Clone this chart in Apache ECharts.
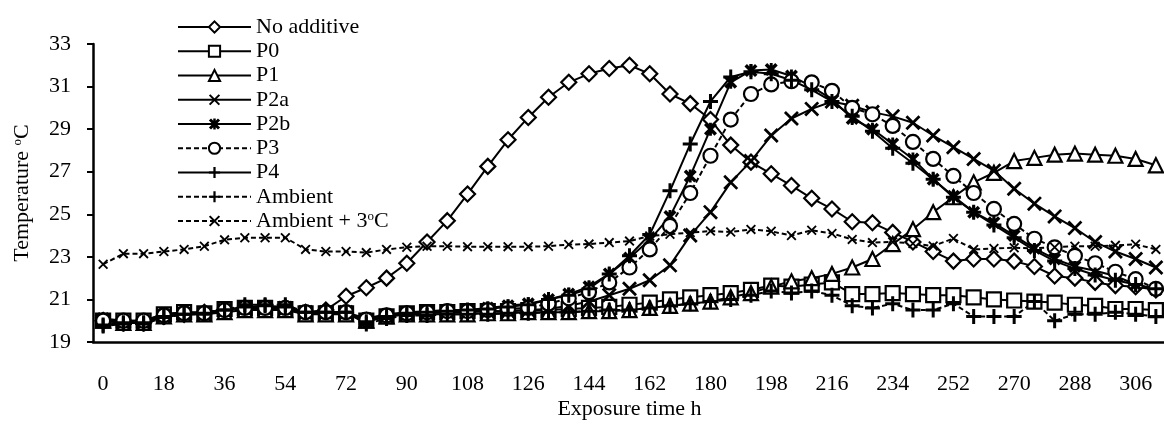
<!DOCTYPE html>
<html><head><meta charset="utf-8">
<script src="https://cdn.jsdelivr.net/npm/echarts@6/dist/echarts.min.js"></script>
<style>html,body{margin:0;padding:0;background:#fff}#c{width:1164px;height:424px}</style>
</head><body><div id="c"></div>
<script>
const hours = ['0','6','12','18','24','30','36','42','48','54','60','66','72','78','84','90','96','102','108','114','120','126','132','138','144','150','156','162','168','174','180','186','192','198','204','210','216','222','228','234','240','246','252','258','264','270','276','282','288','294','300','306','312'];

const noAdditive = [20.0,19.9,19.9,20.2,20.3,20.4,20.5,20.6,20.6,20.6,
 20.4,20.5,21.15,21.55,22.0,22.7,23.7,24.7,25.95,27.25,
 28.5,29.55,30.5,31.2,31.6,31.85,32.0,31.6,30.65,30.2,
 29.45,28.25,27.45,26.9,26.35,25.75,25.25,24.65,24.6,24.15,
 23.7,23.25,22.8,22.9,22.9,22.8,22.55,22.1,22.0,21.8,
 21.65,21.6,21.45];
const p0 = [20.0,20.0,20.0,20.3,20.4,20.35,20.55,20.6,20.6,20.55,
 20.35,20.35,20.35,20.0,20.2,20.35,20.4,20.4,20.45,20.45,
 20.45,20.5,20.5,20.55,20.6,20.65,20.75,20.85,21.0,21.1,
 21.2,21.3,21.45,21.65,21.6,21.7,21.8,21.25,21.25,21.3,
 21.25,21.2,21.2,21.1,21.0,20.95,20.9,20.85,20.75,20.7,
 20.55,20.55,20.5];
const p1 = [20.0,19.9,19.9,20.2,20.3,20.3,20.4,20.5,20.5,20.5,
 20.3,20.3,20.3,20.0,20.2,20.3,20.3,20.3,20.3,20.35,
 20.35,20.4,20.4,20.4,20.45,20.45,20.5,20.6,20.7,20.8,
 20.9,21.1,21.3,21.6,21.85,22.0,22.2,22.5,22.9,23.6,
 24.3,25.1,25.8,26.5,26.95,27.5,27.65,27.8,27.85,27.8,
 27.75,27.6,27.3];
const p2a = [20.0,19.9,19.9,20.2,20.3,20.3,20.5,20.6,20.6,20.6,
 20.4,20.4,20.4,20.0,20.2,20.3,20.35,20.4,20.4,20.45,
 20.45,20.5,20.55,20.7,20.9,21.2,21.5,21.9,22.6,24.0,
 25.1,26.5,27.5,28.7,29.5,29.95,30.3,30.1,29.8,29.6,
 29.3,28.7,28.15,27.6,27.05,26.2,25.5,24.9,24.35,23.7,
 23.25,22.9,22.5];
const p2b = [20.1,20.0,20.0,20.3,20.4,20.4,20.5,20.6,20.6,20.6,
 20.4,20.4,20.4,20.1,20.3,20.4,20.45,20.5,20.5,20.6,
 20.7,20.8,21.0,21.25,21.6,22.2,22.95,23.8,24.9,26.8,
 29.0,31.2,31.75,31.8,31.5,31.0,30.4,29.5,29.0,28.3,
 27.6,26.65,25.85,25.1,24.6,24.0,23.4,22.9,22.55,22.35,
 22.1,21.7,21.45];
const p3 = [20.0,20.0,20.0,20.25,20.35,20.35,20.5,20.6,20.6,20.6,
 20.4,20.4,20.4,20.05,20.25,20.35,20.4,20.45,20.45,20.5,
 20.55,20.6,20.8,21.05,21.35,21.8,22.5,23.35,24.45,26.0,
 27.75,29.45,30.65,31.1,31.25,31.2,30.8,30.0,29.7,29.15,
 28.4,27.6,26.8,26.0,25.25,24.55,23.85,23.45,23.05,22.7,
 22.3,21.95,21.5];
const p4 = [19.8,19.9,19.9,20.2,20.3,20.35,20.5,20.65,20.7,20.65,
 20.4,20.4,20.4,19.95,20.2,20.35,20.4,20.45,20.5,20.55,
 20.65,20.75,21.0,21.2,21.5,22.2,23.05,24.05,26.1,28.3,
 30.3,31.45,31.7,31.6,31.3,30.85,30.3,29.6,28.9,28.1,
 27.4,26.65,25.8,25.1,24.5,23.9,23.3,22.8,22.45,22.15,
 21.9,21.7,21.5];
const ambient = [19.75,19.85,19.85,20.15,20.3,20.3,20.5,20.75,20.75,20.75,
 20.4,20.4,20.4,19.85,20.1,20.25,20.25,20.3,20.3,20.3,
 20.35,20.35,20.4,20.4,20.45,20.5,20.5,20.6,20.7,20.8,
 20.9,21.0,21.2,21.4,21.3,21.4,21.2,20.7,20.6,20.8,
 20.5,20.5,20.8,20.2,20.2,20.2,20.9,20.0,20.3,20.3,
 20.4,20.3,20.2];
const ambient3 = [22.65,23.15,23.15,23.25,23.35,23.5,23.8,23.9,23.9,23.9,
 23.35,23.25,23.25,23.2,23.35,23.45,23.5,23.5,23.48,23.48,
 23.48,23.48,23.5,23.58,23.6,23.67,23.74,23.98,24.06,24.14,
 24.21,24.17,24.29,24.2,24.0,24.25,24.1,23.82,23.67,23.7,
 23.63,23.51,23.86,23.35,23.39,23.43,23.4,23.45,23.5,23.5,
 23.54,23.59,23.35];

const seriesNames = ['No additive','P0','P1','P2a','P2b','P3','P4','Ambient','Ambient + 3°C'];

const FONT = 'Liberation Serif';
const PLUS = 'path://M4,0H6V4H10V6H6V10H4V6H0V4H4Z';
const CROSS = 'path://M0,1.3L1.3,0L10,8.7L8.7,10Z M8.7,0L10,1.3L1.3,10L0,8.7Z';
const STAR = 'path://M0,1.9L1.9,0L10,8.1L8.1,10Z M8.1,0L10,1.9L1.9,10L0,8.1Z M3.9,0H6.1V10H3.9Z';

function mk(name, data, symbol, size, hollow, dashed) {
  return {
    name: name, type: 'line', data: data,
    symbol: symbol, symbolSize: size, symbolKeepAspect: true,
    showAllSymbol: true,
    lineStyle: {color: '#000', width: 2, type: dashed ? [5, 3] : 'solid'},
    itemStyle: hollow ? {color: '#fff', borderColor: '#000', borderWidth: 2.2}
                      : {color: '#000', borderWidth: 0},
    emphasis: {disabled: true},
    animation: false
  };
}

const chart = echarts.init(document.getElementById('c'), null, {renderer: 'canvas'});
chart.setOption({
  animation: false,
  backgroundColor: '#fff',
  grid: {left: 93, right: -2, top: 44, bottom: 82, outerBoundsMode: 'none'},
  legend: {
    orient: 'vertical', left: 172, top: 11,
    itemWidth: 73, itemHeight: 14, itemGap: 2.25,
    data: seriesNames,
    textStyle: {fontFamily: FONT, fontSize: 22, color: '#000', lineHeight: 22,
      rich: {sup: {fontFamily: FONT, fontSize: 13, verticalAlign: 'top', lineHeight: 14, color: '#000'}}},
    formatter: function (n) { return n === 'Ambient + 3°C' ? 'Ambient + 3{sup|o}C' : n; },
    selectedMode: false
  },
  xAxis: {
    type: 'category', data: hours, boundaryGap: true,
    name: 'Exposure time h', nameLocation: 'middle', nameGap: 56, nameMoveOverlap: false,
    nameTextStyle: {fontFamily: FONT, fontSize: 22, color: '#000'},
    axisLine: {lineStyle: {color: '#000', width: 2.5}},
    axisTick: {interval: 0, length: 6, lineStyle: {color: '#000', width: 2}},
    axisLabel: {interval: 2, margin: 31, fontFamily: FONT, fontSize: 22, color: '#000'},
    splitLine: {show: false}
  },
  yAxis: {
    type: 'value', min: 19, max: 33, interval: 2,
    name: 'Temperature {sup|o}C', nameLocation: 'middle', nameGap: 60, nameMoveOverlap: false,
    nameTextStyle: {fontFamily: FONT, fontSize: 22, color: '#000',
      rich: {sup: {fontFamily: FONT, fontSize: 13, verticalAlign: 'top', lineHeight: 14, color: '#000'}}},
    axisLine: {show: true, lineStyle: {color: '#000', width: 2.5}},
    axisTick: {show: true, length: 6, lineStyle: {color: '#000', width: 2}},
    axisLabel: {margin: 22, fontFamily: FONT, fontSize: 22, color: '#000'},
    splitLine: {show: false}
  },
  series: [
    mk('No additive', noAdditive, 'diamond', 15, true, false),
    mk('P0', p0, 'rect', 14, true, false),
    mk('P1', p1, 'triangle', 14, true, false),
    mk('P2a', p2a, CROSS, 15, false, false),
    mk('P2b', p2b, STAR, 13, false, false),
    mk('P3', p3, 'circle', 14, true, true),
    mk('P4', p4, PLUS, 15, false, false),
    mk('Ambient', ambient, PLUS, 15, false, true),
    mk('Ambient + 3°C', ambient3, CROSS, 10, false, true)
  ]
});
</script></body></html>
